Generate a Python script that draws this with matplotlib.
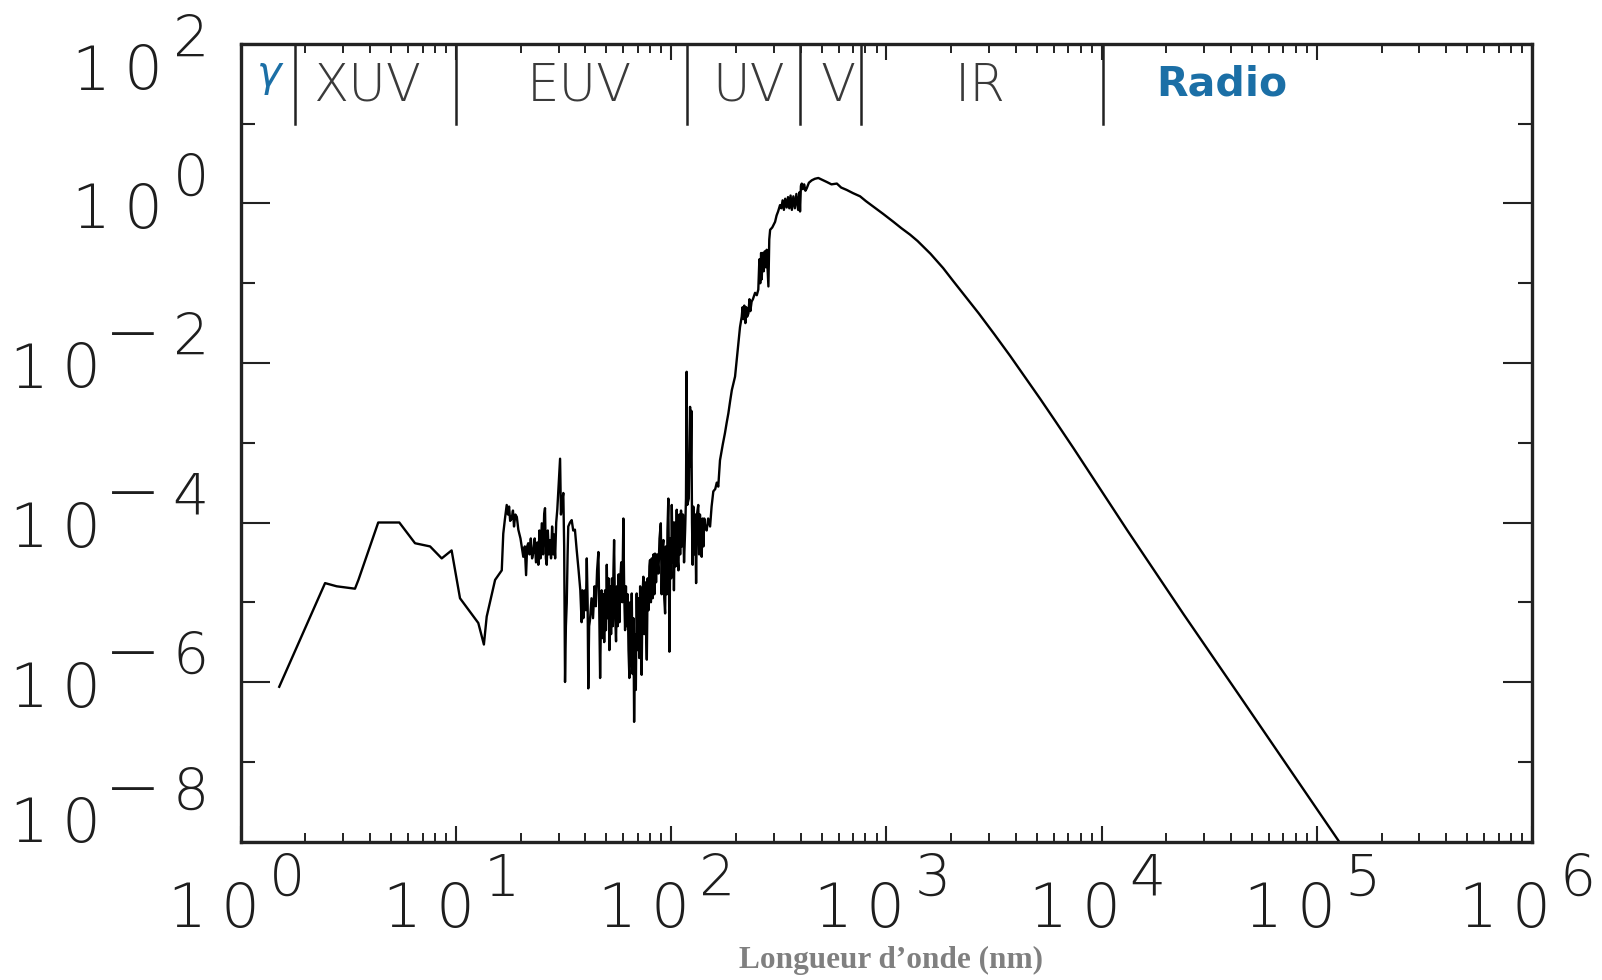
import matplotlib
matplotlib.use("Agg")
import matplotlib.pyplot as plt
from matplotlib.ticker import FixedLocator, NullFormatter
from matplotlib.transforms import blended_transform_factory

plt.rcParams['font.family'] = ['DejaVu Sans']

# ---- data: (log10 wavelength [nm], log10 irradiance) ----
spectrum = [
    (0.179, -6.06), (0.392, -4.76), (0.446, -4.80), (0.531, -4.83), (0.547, -4.72),
    (0.639, -4.00), (0.737, -4.00), (0.810, -4.26), (0.880, -4.30), (0.934, -4.45),
    (0.980, -4.35), (1.019, -4.95), (1.104, -5.26), (1.130, -5.53), (1.143, -5.18),
    (1.182, -4.72), (1.213, -4.60), (1.220, -4.14), (1.228, -3.95), (1.236, -3.78),
    (1.242, -3.90), (1.247, -3.80), (1.252, -3.98), (1.259, -3.95), (1.265, -3.85),
    (1.270, -4.05), (1.276, -3.90), (1.283, -3.93), (1.290, -4.09), (1.300, -4.20),
    (1.313, -4.43), (1.320, -4.30), (1.326, -4.66), (1.331, -4.30), (1.336, -4.26),
    (1.342, -4.40), (1.348, -4.20), (1.354, -4.45), (1.360, -4.37), (1.366, -4.20),
    (1.372, -4.50), (1.378, -4.25), (1.383, -4.53), (1.388, -4.10), (1.393, -4.45),
    (1.399, -4.01), (1.405, -4.40), (1.410, -3.90), (1.414, -3.82), (1.418, -4.45),
    (1.422, -4.53), (1.427, -4.10), (1.432, -4.40), (1.437, -4.22), (1.442, -4.45),
    (1.447, -4.05), (1.452, -4.40), (1.456, -4.15), (1.461, -4.45), (1.466, -4.00),
    (1.471, -3.84), (1.478, -3.50), (1.484, -3.20), (1.488, -3.90), (1.493, -3.75),
    (1.499, -3.63), (1.503, -4.30), (1.507, -6.00), (1.511, -5.30), (1.515, -5.01),
    (1.519, -4.40), (1.522, -4.05), (1.530, -4.00), (1.538, -3.97), (1.545, -4.10),
    (1.553, -4.09), (1.561, -4.34), (1.570, -4.60), (1.578, -4.85), (1.584, -5.25),
    (1.588, -4.85), (1.592, -5.20), (1.596, -4.90), (1.600, -4.85), (1.604, -5.10),
    (1.608, -4.45), (1.612, -5.00), (1.615, -6.08), (1.619, -5.30), (1.623, -5.22),
    (1.630, -4.95), (1.637, -5.20), (1.644, -4.80), (1.650, -5.05), (1.656, -4.60),
    (1.662, -4.37), (1.666, -5.10), (1.670, -5.95), (1.674, -5.20), (1.677, -4.85),
    (1.681, -5.45), (1.685, -4.90), (1.689, -5.50), (1.693, -4.85), (1.697, -5.35),
    (1.701, -4.53), (1.705, -5.20), (1.709, -4.70), (1.713, -5.60), (1.717, -4.80),
    (1.721, -5.40), (1.725, -4.70), (1.729, -5.30), (1.732, -4.60), (1.735, -4.22),
    (1.739, -5.10), (1.744, -5.49), (1.748, -4.80), (1.752, -5.30), (1.756, -4.65),
    (1.760, -5.25), (1.763, -4.76), (1.768, -4.50), (1.773, -5.00), (1.778, -3.95),
    (1.782, -4.90), (1.786, -5.35), (1.790, -4.80), (1.794, -5.30), (1.798, -4.90),
    (1.802, -5.60), (1.806, -5.95), (1.810, -5.00), (1.814, -5.80), (1.817, -4.89),
    (1.821, -5.90), (1.825, -5.20), (1.828, -6.50), (1.832, -5.40), (1.836, -6.10),
    (1.840, -4.89), (1.844, -5.60), (1.848, -4.95), (1.852, -5.70), (1.856, -4.80),
    (1.860, -5.50), (1.863, -5.91), (1.867, -4.90), (1.871, -4.68), (1.875, -5.40),
    (1.879, -4.75), (1.883, -5.30), (1.887, -5.72), (1.891, -4.70), (1.895, -5.10),
    (1.899, -4.55), (1.902, -4.47), (1.906, -5.00), (1.910, -4.45), (1.914, -4.95),
    (1.918, -4.40), (1.922, -4.90), (1.925, -4.39), (1.930, -4.75), (1.935, -4.40),
    (1.941, -4.64), (1.946, -4.20), (1.952, -4.01), (1.956, -4.90), (1.960, -4.30),
    (1.964, -4.22), (1.968, -4.95), (1.972, -5.14), (1.976, -4.30), (1.980, -4.90),
    (1.983, -4.10), (1.987, -3.70), (1.990, -4.60), (1.992, -5.62), (1.996, -4.20),
    (2.000, -4.70), (2.003, -3.78), (2.007, -4.50), (2.010, -4.00), (2.013, -4.85),
    (2.017, -4.00), (2.021, -4.55), (2.026, -3.84), (2.030, -4.45), (2.034, -4.60),
    (2.038, -3.90), (2.042, -4.40), (2.046, -3.85), (2.050, -4.30), (2.055, -3.90),
    (2.060, -4.50), (2.065, -4.10), (2.069, -3.70), (2.072, -2.11), (2.075, -3.78),
    (2.082, -3.70), (2.088, -2.55), (2.091, -3.30), (2.094, -2.60), (2.097, -4.00),
    (2.100, -4.53), (2.103, -3.80), (2.107, -4.40), (2.112, -3.90), (2.116, -4.76),
    (2.120, -3.90), (2.126, -3.78), (2.130, -4.40), (2.134, -3.90), (2.138, -4.35),
    (2.142, -4.43), (2.146, -3.95), (2.150, -4.30), (2.154, -3.95), (2.158, -4.05),
    (2.165, -4.10), (2.172, -3.95), (2.181, -4.05), (2.188, -3.80), (2.196, -3.61),
    (2.205, -3.58), (2.212, -3.50), (2.219, -3.55), (2.227, -3.22), (2.240, -3.02),
    (2.250, -2.88), (2.258, -2.75), (2.266, -2.63), (2.274, -2.48), (2.282, -2.34),
    (2.290, -2.25), (2.297, -2.17), (2.305, -1.95), (2.312, -1.75), (2.320, -1.55),
    (2.328, -1.42), (2.332, -1.30), (2.336, -1.45), (2.340, -1.28), (2.345, -1.50),
    (2.349, -1.30), (2.353, -1.42), (2.359, -1.38), (2.364, -1.20), (2.368, -1.35),
    (2.374, -1.23), (2.380, -1.20), (2.390, -1.12), (2.398, -1.15), (2.405, -1.08),
    (2.410, -0.70), (2.414, -1.00), (2.418, -0.62), (2.421, -0.95), (2.425, -0.62),
    (2.430, -0.85), (2.435, -0.60), (2.440, -0.80), (2.444, -0.58), (2.448, -0.80),
    (2.452, -1.04), (2.456, -0.45), (2.460, -0.33), (2.470, -0.30), (2.483, -0.23),
    (2.490, -0.15), (2.497, -0.10), (2.506, -0.02), (2.512, -0.06), (2.518, 0.04),
    (2.524, -0.08), (2.530, 0.06), (2.537, -0.05), (2.543, 0.08), (2.549, -0.06),
    (2.555, 0.10), (2.561, -0.08), (2.568, 0.09), (2.575, -0.06), (2.582, 0.12),
    (2.590, -0.08), (2.596, 0.14), (2.599, -0.10), (2.603, 0.22), (2.607, 0.25),
    (2.612, 0.18), (2.618, 0.24), (2.624, 0.16), (2.630, 0.19), (2.640, 0.26),
    (2.653, 0.29), (2.668, 0.31), (2.684, 0.32), (2.700, 0.30), (2.723, 0.27),
    (2.745, 0.24), (2.770, 0.25), (2.790, 0.20), (2.816, 0.17), (2.845, 0.13),
    (2.878, 0.09), (2.905, 0.03), (2.940, -0.04), (2.985, -0.13), (3.033, -0.23),
    (3.070, -0.31), (3.110, -0.39), (3.145, -0.47), (3.205, -0.63), (3.264, -0.81),
    (3.310, -0.97), (3.360, -1.14), (3.430, -1.38), (3.502, -1.64), (3.575, -1.91),
    (3.645, -2.18), (3.715, -2.45), (3.788, -2.74), (3.870, -3.07), (4.120, -4.10),
    (4.381, -5.15), (4.643, -6.18), (4.881, -7.12), (5.094, -7.96), (5.111, -8.03),
]
log_wavelength = [p[0] for p in spectrum]
log_irradiance = [p[1] for p in spectrum]

band_edges_nm = [1.78, 10.0, 119.0, 397.0, 764.0, 1.02e4]
band_names = ['γ', 'XUV', 'EUV', 'UV', 'V', 'IR', 'Radio']
band_label_nm = [1.354, 3.92, 37.4, 229.6, 594.0, 2716.0, 36140.0]

x_decades = [0, 1, 2, 3, 4, 5, 6]
y_decades = [-8, -6, -4, -2, 0, 2]
x_label_text = 'Longueur d’onde (nm)'

wavelength = [10 ** v for v in log_wavelength]
irradiance = [10 ** v for v in log_irradiance]

# ---- figure ----
fig = plt.figure(figsize=(16.02, 9.80), dpi=100)
ax = fig.add_axes([240.7 / 1602, 1 - 841.5 / 980, (1532 - 240.7) / 1602, (841.5 - 44) / 980])

ax.plot(wavelength, irradiance, color='black', lw=1.7)
ax.set_xscale('log')
ax.set_yscale('log')
ax.set_xlim(1, 1e6)
ax.set_ylim(1e-8, 1e2)

axis_color = '#222222'
for s in ax.spines.values():
    s.set_linewidth(2.4)
    s.set_color(axis_color)

ax.xaxis.set_major_locator(FixedLocator([10.0 ** k for k in x_decades]))
ax.xaxis.set_minor_locator(FixedLocator([m * 10.0 ** k for k in range(0, 6) for m in range(2, 10)]))
ax.yaxis.set_major_locator(FixedLocator([10.0 ** k for k in range(-8, 3, 2)]))
ax.yaxis.set_minor_locator(FixedLocator([10.0 ** k for k in range(-7, 2, 2)]))
ax.xaxis.set_minor_formatter(NullFormatter())
ax.yaxis.set_minor_formatter(NullFormatter())

ax.tick_params(axis='x', which='major', direction='in', length=11.3, width=1.5,
               top=True, bottom=True, labelbottom=False, color=axis_color)
ax.tick_params(axis='x', which='minor', direction='in', length=6.5, width=1.4,
               top=True, bottom=True, color=axis_color)
ax.tick_params(axis='y', which='major', direction='in', length=21, width=1.5,
               left=True, right=True, labelleft=False, color=axis_color)
ax.tick_params(axis='y', which='minor', direction='in', length=10, width=1.5,
               left=True, right=True, color=axis_color)

# ---- spectral band dividers and names ----
for e in band_edges_nm:
    ax.axvline(e, ymin=0.9, ymax=1.0, color=axis_color, lw=1.8)

tb = blended_transform_factory(ax.transData, ax.transAxes)
label_gray = '#3a3a3a'
blue = '#1b6fa6'
for name, pos in zip(band_names, band_label_nm):
    if name == 'γ':
        ax.text(pos, 0.947, name, transform=tb, ha='center', va='baseline',
                fontsize=30, style='italic', color=blue)
    elif name == 'Radio':
        ax.text(pos, 0.936, name, transform=tb, ha='center', va='baseline',
                fontsize=29.5, fontweight='bold', color=blue)
    else:
        ax.text(pos, 0.929, name, transform=tb, ha='center', va='baseline',
                fontsize=37, fontweight='light', color=label_gray)

# ---- tick labels drawn as 10 with a raised exponent (glyphs spaced like the original) ----
tick_color = '#1e1e1e'
lab = dict(fontweight='light', color=tick_color, textcoords='offset pixels',
           ha='center', va='baseline')

ty = ax.get_yaxis_transform()
for k in y_decades:
    shift = 0
    if k == y_decades[-1]:
        shift = -21          # top label pushed down, as in the original
    elif k == y_decades[0]:
        shift = 24           # bottom label pushed up
    lead = -62 if k < 0 else 0
    xy = (0, 10.0 ** k)
    ax.annotate(str(abs(k)), xy=xy, xycoords=ty, xytext=(-50, 8 + shift), fontsize=41, **lab)
    if k < 0:
        ax.annotate('\u2212', xy=xy, xycoords=ty, xytext=(-108, 8 + shift), fontsize=48, **lab)
    ax.annotate('0', xy=xy, xycoords=ty, xytext=(-98 + lead, -24.5 + shift), fontsize=44, **lab)
    ax.annotate('1', xy=xy, xycoords=ty, xytext=(-150 + lead, -24.5 + shift), fontsize=44, **lab)

tx = ax.get_xaxis_transform()
for k in x_decades:
    xy = (10.0 ** k, 0)
    ax.annotate('1', xy=xy, xycoords=tx, xytext=(-54, -85), fontsize=44, **lab)
    ax.annotate('0', xy=xy, xycoords=tx, xytext=(-1, -85), fontsize=44, **lab)
    ax.annotate(str(k), xy=xy, xycoords=tx, xytext=(46, -54), fontsize=41, **lab)

fig.text(890.6 / 1602, 1 - 960 / 980, x_label_text, ha='center', va='center',
         fontsize=22.5, fontweight='bold', family='Liberation Serif', color='#808080')

fig.savefig('out.png', dpi=100)
